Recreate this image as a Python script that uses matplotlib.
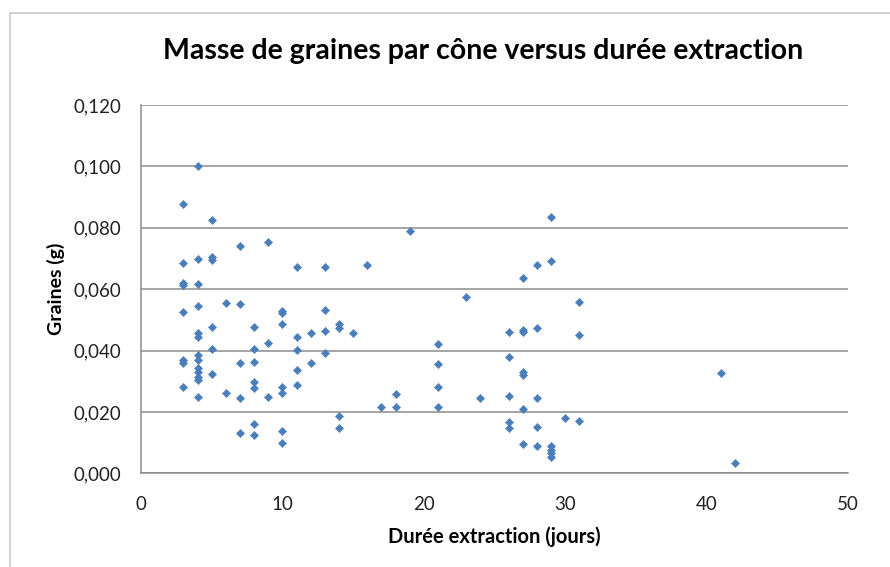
import matplotlib
matplotlib.use("Agg")
import matplotlib.pyplot as plt
from matplotlib.patches import Rectangle
from matplotlib.ticker import FuncFormatter, MultipleLocator

# durée d'extraction (jours) et masse de graines par cône (g)
duree = [3, 3, 3, 3, 3, 3, 3, 3,
         4, 4, 4, 4, 4, 4, 4, 4, 4, 4, 4, 4, 4,
         5, 5, 5, 5, 5, 5,
         6, 6,
         7, 7, 7, 7, 7,
         8, 8, 8, 8, 8, 8, 8,
         9, 9, 9,
         10, 10, 10, 10, 10, 10, 10,
         11, 11, 11, 11, 11,
         12, 12,
         13, 13, 13, 13,
         14, 14, 14, 14,
         15, 16, 17, 18, 18, 19,
         21, 21, 21, 21,
         23, 24,
         26, 26, 26, 26, 26,
         27, 27, 27, 27, 27, 27, 27,
         28, 28, 28, 28, 28,
         29, 29, 29, 29, 29, 29,
         30, 31, 31, 31,
         41, 42]
masse = [0.0876, 0.0684, 0.0621, 0.0613, 0.0524, 0.0369, 0.0360, 0.0280,
         0.1001, 0.0697, 0.0616, 0.0546, 0.0456, 0.0445, 0.0385, 0.0369, 0.0342, 0.0315, 0.0304, 0.0250, 0.0330,
         0.0825, 0.0705, 0.0695, 0.0478, 0.0404, 0.0322,
         0.0556, 0.0263,
         0.0740, 0.0551, 0.0358, 0.0244, 0.0132,
         0.0478, 0.0404, 0.0364, 0.0298, 0.0277, 0.0161, 0.0125,
         0.0752, 0.0423, 0.0250,
         0.0530, 0.0521, 0.0486, 0.0282, 0.0263, 0.0138, 0.0100,
         0.0671, 0.0443, 0.0402, 0.0337, 0.0288,
         0.0456, 0.0360,
         0.0671, 0.0532, 0.0465, 0.0393,
         0.0486, 0.0472, 0.0187, 0.0147,
         0.0456, 0.0679, 0.0215, 0.0257, 0.0215, 0.0790,
         0.0421, 0.0356, 0.0282, 0.0215,
         0.0575, 0.0244,
         0.0459, 0.0378, 0.0253, 0.0168, 0.0147,
         0.0637, 0.0466, 0.0461, 0.0331, 0.0320, 0.0208, 0.0095,
         0.0678, 0.0472, 0.0244, 0.0150, 0.0090,
         0.0834, 0.0692, 0.0090, 0.0076, 0.0065, 0.0054,
         0.0181, 0.0559, 0.0450, 0.0171,
         0.0326, 0.0035]

plt.rcParams['font.family'] = ['Lato', 'DejaVu Sans']

fig = plt.figure(figsize=(8.9, 5.67), dpi=100)
ax = fig.add_axes([141/890, 1 - 473.3/567, (848 - 141)/890, (473.3 - 105)/567])

# cadre du graphique (coupé à droite et en bas)
fig.add_artist(Rectangle((10/890, -0.05), 1.0, (567 - 12.5)/567 + 0.05,
                         transform=fig.transFigure, fill=False,
                         edgecolor='#c8c8c8', linewidth=1.2))

ax.scatter(duree, masse, marker='D', s=18, color='#4a7ebb',
           edgecolors='#4a7ebb', linewidths=0.3, zorder=3)

ax.set_xlim(0, 50)
ax.set_ylim(0, 0.12)
ax.xaxis.set_major_locator(MultipleLocator(10))
ax.yaxis.set_major_locator(MultipleLocator(0.02))
ax.yaxis.set_major_formatter(FuncFormatter(lambda v, p: ('%.3f' % v).replace('.', ',')))

ax.grid(axis='y', color='#8c8c8c', linewidth=1.1)
ax.set_axisbelow(True)
for s in ['top', 'right']:
	ax.spines[s].set_visible(False)
for s in ['left', 'bottom']:
	ax.spines[s].set_color('#8c8c8c')
	ax.spines[s].set_linewidth(1.1)
ax.tick_params(axis='y', length=0, labelsize=13.5, pad=14, labelcolor='#222222')
ax.tick_params(axis='x', length=0, labelsize=13.5, pad=16, labelcolor='#222222')

ax.set_title('Masse de graines par cône versus durée extraction',
             fontsize=20.5, fontweight='bold', pad=33, x=0.484)
ax.set_xlabel('Durée extraction (jours)', fontsize=14.5, fontweight='bold', labelpad=10)
ax.set_ylabel('Graines (g)', fontsize=14, fontweight='bold', labelpad=6)

plt.savefig('out.png', dpi=100)
